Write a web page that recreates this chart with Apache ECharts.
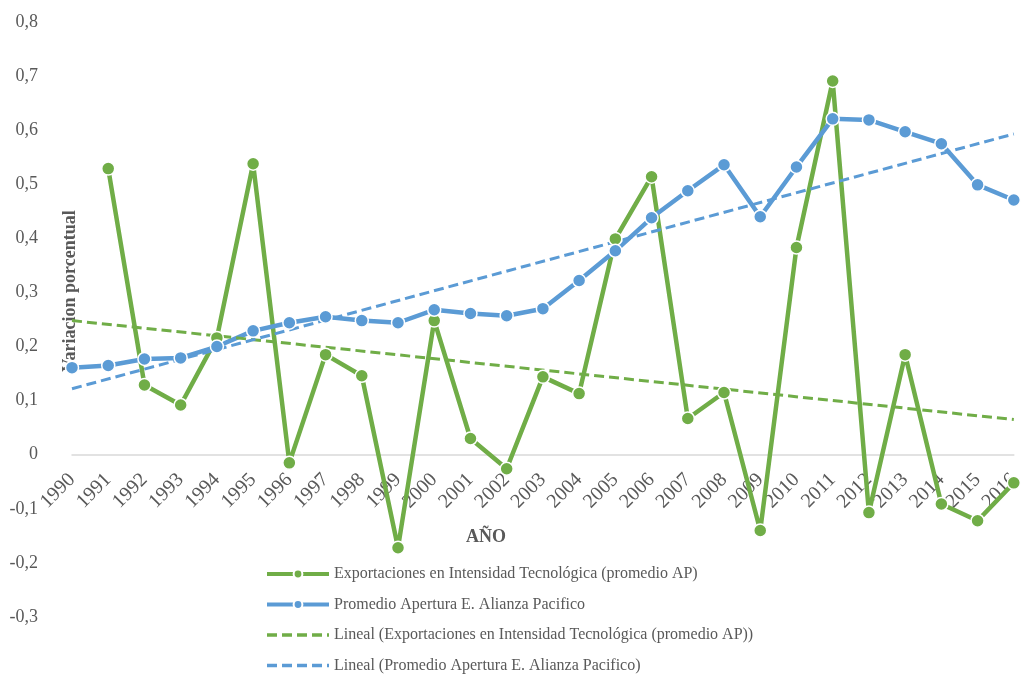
<!DOCTYPE html>
<html>
<head>
<meta charset="utf-8">
<script src="https://cdn.jsdelivr.net/npm/echarts@6/dist/echarts.min.js"></script>
<style>
  html, body { margin: 0; padding: 0; background: #fff; }
  #main { width: 1023px; height: 675px; }
</style>
</head>
<body>
<div id="main"></div>
<script>
// años
var years = ['1990', '1991', '1992', '1993', '1994', '1995', '1996', '1997', '1998', '1999',
	'2000', '2001', '2002', '2003', '2004', '2005', '2006', '2007', '2008', '2009',
	'2010', '2011', '2012', '2013', '2014', '2015', '2016'];

// Exportaciones en Intensidad Tecnológica (promedio AP)
var exportaciones = [null, 0.529, 0.129, 0.092, 0.216, 0.538, -0.015, 0.185, 0.146, -0.172,
	0.248, 0.030, -0.026, 0.144, 0.113, 0.399, 0.514, 0.067, 0.115, -0.140,
	0.383, 0.691, -0.107, 0.185, -0.091, -0.122, -0.052];

// Promedio Apertura E. Alianza Pacifico
var apertura = [0.161, 0.165, 0.177, 0.179, 0.200, 0.229, 0.244, 0.255, 0.248, 0.244,
	0.268, 0.261, 0.257, 0.270, 0.322, 0.377, 0.438, 0.488, 0.536, 0.440,
	0.532, 0.621, 0.619, 0.597, 0.575, 0.499, 0.471];

// lineas de tendencia (extremos)
var linealExportaciones = [['1990', 0.248], ['2016', 0.065]];
var linealApertura = [['1990', 0.122], ['2016', 0.593]];

var nombres = [
	'Exportaciones en Intensidad Tecnológica (promedio AP)',
	'Promedio Apertura E. Alianza Pacifico',
	'Lineal (Exportaciones en Intensidad Tecnológica (promedio AP))',
	'Lineal (Promedio Apertura E. Alianza Pacifico)'
];

var verde = '#70AD47';
var azul = '#5B9BD5';
var gris = '#595959';
var fuente = '"Liberation Serif", "Times New Roman", serif';

var yMin = -0.3, yMax = 0.8;
var gridTop = 22, gridBottom = 58, alto = 675;
// distancia del borde inferior al cero
var altoGrid = alto - gridTop - gridBottom;
var offsetCero = -altoGrid * (0 - yMin) / (yMax - yMin);

var sinMarca = { color: 'rgba(0,0,0,0)', borderWidth: 0, opacity: 0 };

var chart = echarts.init(document.getElementById('main'));

var option = {
	animation: false,
	textStyle: { fontFamily: fuente },
	grid: { left: 72, right: 8, top: gridTop, bottom: gridBottom },
	legend: {
		orient: 'vertical',
		left: 265,
		top: 565,
		padding: 0,
		itemWidth: 62,
		itemHeight: 11,
		itemGap: 12.5,
		textStyle: { fontFamily: fuente, fontSize: 16, color: gris, lineHeight: 18 },
		data: [
			{ name: nombres[0], lineStyle: { width: 4 } },
			{ name: nombres[1], lineStyle: { width: 4 } },
			{ name: nombres[2], lineStyle: { width: 3.5 }, itemStyle: sinMarca },
			{ name: nombres[3], lineStyle: { width: 3.5 }, itemStyle: sinMarca }
		]
	},
	xAxis: {
		type: 'category',
		data: years,
		boundaryGap: false,
		position: 'bottom',
		offset: offsetCero,
		axisLine: { onZero: false, lineStyle: { color: '#d9d9d9', width: 1.5 } },
		axisTick: { show: false },
		axisLabel: { rotate: 45, margin: 22, fontSize: 20, color: gris, fontFamily: fuente, interval: 0 }
	},
	yAxis: {
		type: 'value',
		min: yMin,
		max: yMax,
		interval: 0.1,
		splitLine: { show: false },
		axisLine: { show: false },
		axisTick: { show: false },
		axisLabel: {
			margin: 34,
			fontSize: 18,
			color: gris,
			fontFamily: fuente,
			formatter: function(v) {
				if (Math.abs(v) < 1e-9) return '0';
				return v.toFixed(1).replace('.', ',');
			}
		}
	},
	graphic: [{
		type: 'text',
		x: 70,
		y: 291,
		rotation: Math.PI / 2,
		style: {
			text: 'Variacion porcentual',
			font: 'bold 18px ' + fuente,
			fill: gris,
			textAlign: 'center',
			textVerticalAlign: 'middle'
		}
	}, {
		type: 'text',
		x: 486,
		y: 537,
		style: {
			text: 'AÑO',
			font: 'bold 18px ' + fuente,
			fill: gris,
			textAlign: 'center',
			textVerticalAlign: 'middle'
		}
	}],
	series: [{
		name: nombres[0],
		type: 'line',
		data: exportaciones,
		symbol: 'circle',
		symbolSize: 13,
		lineStyle: { color: verde, width: 4.5 },
		itemStyle: { color: verde, borderColor: '#fff', borderWidth: 1.5 }
	}, {
		name: nombres[1],
		type: 'line',
		data: apertura,
		symbol: 'circle',
		symbolSize: 13,
		lineStyle: { color: azul, width: 4.5 },
		itemStyle: { color: azul, borderColor: '#fff', borderWidth: 1.5 }
	}, {
		name: nombres[2],
		type: 'line',
		data: linealExportaciones,
		symbol: 'none',
		lineStyle: { color: verde, width: 3, type: [10, 5] },
		itemStyle: { color: verde }
	}, {
		name: nombres[3],
		type: 'line',
		data: linealApertura,
		symbol: 'none',
		lineStyle: { color: azul, width: 3, type: [10, 5] },
		itemStyle: { color: azul }
	}]
};

chart.setOption(option);
</script>
</body>
</html>
